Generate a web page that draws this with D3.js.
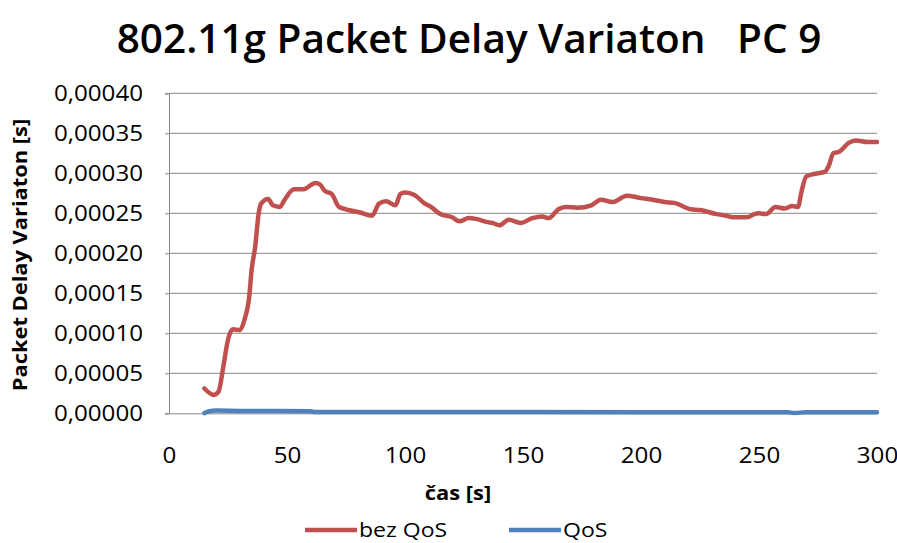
<!DOCTYPE html>
<html>
<head>
<meta charset="utf-8">
<script src="https://cdn.jsdelivr.net/npm/d3@7"></script>
<style>
	body { margin: 0; background: #fff; }
	svg { display: block; font-family: "Open Sans", sans-serif; }
</style>
</head>
<body>
<div id="graph"></div>
<script>
let width = 897;
let height = 543;

// plot area inside the svg
let plot = {
	left: 169,
	right: 877,
	top: 93.3,
	bottom: 413.3
	};

// the reference text looks stretched sideways, so most labels get widened
let stretch = 1.15;

// Data (time in s, delay variation in s)
let timeBezQoS = [15, 19, 21, 23, 25, 27, 30, 32, 34, 35, 36.5, 38, 39, 42, 44, 47, 49, 53, 57, 62,
	64, 66, 69, 72, 75, 81, 86, 89, 92, 96, 98, 100, 104, 108, 111, 115, 120, 123, 127, 130,
	135, 137, 140, 144, 149, 154, 158, 161, 165, 168, 173, 179, 183, 188, 194, 200, 205, 210, 214, 221,
	225, 232, 236, 239, 245, 248, 250, 253, 257, 261, 264, 266.5, 268, 270, 273, 278, 279.5, 281.5, 284, 288,
	291, 296, 300];
let valueBezQoS = [0.000031, 0.000023, 0.000027, 0.000058, 0.000092, 0.000105, 0.000104, 0.000117, 0.000146, 0.000179,
	0.000208, 0.000250, 0.000262, 0.000268, 0.000260, 0.000258, 0.000267, 0.000280, 0.000280, 0.000288,
	0.000286, 0.000278, 0.000274, 0.000258, 0.000255, 0.000251, 0.000247, 0.000262, 0.000265, 0.000260,
	0.000274, 0.000276, 0.000273, 0.000263, 0.000258, 0.000249, 0.000245, 0.000240, 0.000244, 0.000243,
	0.000239, 0.000238, 0.000235, 0.000242, 0.000238, 0.000244, 0.000246, 0.000244, 0.000255, 0.000258,
	0.000257, 0.000260, 0.000267, 0.000264, 0.000272, 0.000269, 0.000267, 0.000264, 0.000263, 0.000255,
	0.000254, 0.000249, 0.000247, 0.000245, 0.000245, 0.000249, 0.000250, 0.000249, 0.000258, 0.000256,
	0.000259, 0.000258, 0.000277, 0.000296, 0.000299, 0.000302, 0.000309, 0.000325, 0.000327, 0.000338,
	0.000341, 0.000339, 0.000339];

let timeQoS = [15, 17, 20, 30, 60, 62, 150, 262, 265, 270, 300];
let valueQoS = [0.0000002, 0.0000025, 0.0000035, 0.000003, 0.0000025, 0.0000015, 0.0000015, 0.0000012, 0.0000005, 0.0000012, 0.0000012];

let xTicks = [0, 50, 100, 150, 200, 250, 300];
let yTicks = [0, 0.00005, 0.0001, 0.00015, 0.0002, 0.00025, 0.0003, 0.00035, 0.0004];

let seriesNames = ["bez QoS", "QoS"];
let seriesColours = ["#C0504D", "#4F81BD"];

let titleText = "802.11g Packet Delay Variaton\u00a0\u00a0\u00a0PC 9";
let xTitle = "čas [s]";
let yTitle = "Packet Delay Variaton [s]";

let gridColour = "#868686";


let series = [
	{ name: seriesNames[0], colour: seriesColours[0],
		points: timeBezQoS.map((t, i) => ({ t: t, v: valueBezQoS[i] })) },
	{ name: seriesNames[1], colour: seriesColours[1],
		points: timeQoS.map((t, i) => ({ t: t, v: valueQoS[i] })) }
	];


let svg = d3.select("#graph")
	.append("svg")
		.attr("width", width)
		.attr("height", height)
	;

let xScale = d3.scaleLinear()
	.domain([0, 300])
	.range([plot.left, plot.right])
	;
let yScale = d3.scaleLinear()
	.domain([0, 0.0004])
	.range([plot.bottom, plot.top])
	;

// widen a text element by the stretch factor
function widen(sel, factor = stretch) {
	sel.each(function() {
		let len = this.getComputedTextLength();
		d3.select(this)
			.attr("textLength", len * factor)
			.attr("lengthAdjust", "spacingAndGlyphs");
		});
	}


// Gridlines (not at zero, the axis sits there)
svg.append("g")
	.attr("class", "grid")
	.selectAll("line")
	.data(yTicks.filter(d => d > 0))
	.enter()
		.append("line")
			.attr("x1", plot.left)
			.attr("x2", plot.right)
			.attr("y1", d => yScale(d))
			.attr("y2", d => yScale(d))
			.attr("stroke", gridColour)
			.attr("stroke-width", 1)
	;

// y axis
let yAxis = d3.axisLeft(yScale)
	.tickValues(yTicks)
	.tickSize(4)
	.tickPadding(22)
	.tickFormat(d => d.toFixed(5).replace(".", ","))
	;
let gy = svg.append("g")
	.attr("transform", `translate(${plot.left}, 0)`)
	.call(yAxis)
	;
gy.select(".domain").attr("stroke", gridColour);
gy.selectAll(".tick line").attr("stroke", gridColour);
gy.selectAll(".tick text")
	.attr("font-size", 21)
	.attr("font-family", "Open Sans")
	.attr("fill", "#000")
	.call(widen)
	;

// x axis: labels only, the baseline is drawn as a plain line
let xAxis = d3.axisBottom(xScale)
	.tickValues(xTicks)
	.tickSize(0)
	.tickPadding(35)
	;
let gx = svg.append("g")
	.attr("transform", `translate(0, ${plot.bottom})`)
	.call(xAxis)
	;
gx.select(".domain").attr("stroke", gridColour);
gx.selectAll(".tick text")
	.attr("font-size", 21)
	.attr("font-family", "Open Sans")
	.attr("fill", "#000")
	.call(widen)
	;


// Lines
let line = d3.line()
	.x(d => xScale(d.t))
	.y(d => yScale(d.v))
	.curve(d3.curveMonotoneX)
	;

svg.append("g")
	.selectAll("path")
	.data(series)
	.enter()
		.append("path")
			.attr("d", d => line(d.points))
			.attr("fill", "none")
			.attr("stroke", d => d.colour)
			.attr("stroke-width", 4.5)
			.attr("stroke-linejoin", "round")
			.attr("stroke-linecap", "round")
	;


// Title: no extra stretch
svg.append("text")
	.attr("x", 469)
	.attr("y", 53)
	.attr("text-anchor", "middle")
	.attr("font-size", 40.5)
	.attr("font-weight", 600)
	.text(titleText)
	.call(widen, 1.0)
	;

// Axis titles
svg.append("text")
	.attr("x", 458)
	.attr("y", 500)
	.attr("text-anchor", "middle")
	.attr("font-size", 19)
	.attr("font-weight", "bold")
	.text(xTitle)
	.call(widen)
	;
svg.append("text")
	.attr("transform", "rotate(-90)")
	.attr("x", -255)
	.attr("y", 27)
	.attr("text-anchor", "middle")
	.attr("font-size", 19)
	.attr("font-weight", "bold")
	.text(yTitle)
	.call(widen)
	;


// Legend
let legendX = [305, 509];
let legend = svg.append("g")
	.selectAll("g")
	.data(series)
	.enter()
		.append("g")
			.attr("transform", (d, i) => `translate(${legendX[i]}, 530)`)
	;
legend.append("line")
	.attr("x1", 0)
	.attr("x2", 52)
	.attr("stroke", d => d.colour)
	.attr("stroke-width", 4.5)
	;
legend.append("text")
	.attr("x", 54)
	.attr("dy", "0.35em")
	.attr("font-size", 20)
	.text(d => d.name)
	.call(widen)
	;
</script>
</body>
</html>
